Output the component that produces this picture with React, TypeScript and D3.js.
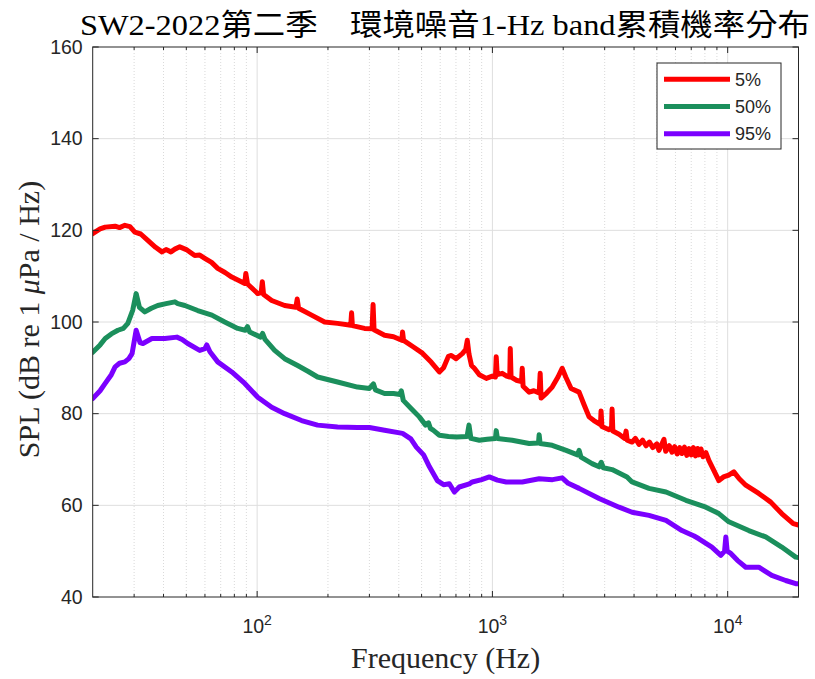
import React from "react";
import * as d3 from "d3";

// ---------- data (frequency Hz, SPL dB) ----------
const seriesNames = ["5%", "50%", "95%"];

const p5Data: [number, number][] = [
  [20,119.3],[21.5,120.3],[22.6,120.7],[24.9,120.9],[26,120.6],[27.4,121.1],[28.8,120.8],[30.2,119.6],[32,119.2],[34.3,117.8],[37,116.3],[39.4,115.3],[41,115.8],[43,115.3],[44.7,115.9],[46.9,116.4],[50,115.8],[54.3,114.5],[57,114.6],[59.9,113.9],[64,113.0],[68,111.7],[73,110.8],[78,109.8],[84,109.0],[88.6,108.4],[89.5,110.6],[91,108.3],[100.6,106.2],[104,106.4],[105.2,108.8],[106.5,106.0],[115.3,104.7],[130.9,103.6],[146,103.2],[148,105.0],[150,103.0],[170.4,101.5],[193.5,100.0],[219.7,99.7],[250,99.3],[252,102.0],[254,99.2],[286,98.6],[308,98.5],[311,103.8],[314,98.3],[348,97.1],[380,96.8],[412,96.0],[415,97.8],[419,96.0],[460,94.6],[504,93.2],[550,91.2],[595,89.1],[620,90.0],[650,92.5],[669,92.7],[700,92.0],[745,93.1],[770,94.0],[782,96.0],[795,93.0],[815,90.5],[838,89.9],[880,88.5],[942,87.7],[1000,88.2],[1030,88.0],[1038,92.4],[1048,88.5],[1101,88.8],[1150,88.2],[1185,88.0],[1191,94.2],[1200,88.0],[1263,87.3],[1330,87.0],[1339,89.9],[1350,86.0],[1433,84.7],[1500,85.0],[1580,84.5],[1596,88.8],[1610,83.4],[1700,84.5],[1795,85.8],[1900,88.0],[1979,89.9],[2050,88.0],[2160,85.5],[2336,84.7],[2450,82.0],[2576,79.3],[2700,78.5],[2880,77.6],[2896,80.6],[2920,77.2],[3132,76.5],[3210,77.0],[3226,81.0],[3250,76.2],[3454,75.5],[3650,74.6],[3699,76.2],[3740,74.2],[3922,73.8],[4050,74.6],[4200,73.3],[4350,74.2],[4496,73.0],[4650,73.8],[4800,72.6],[5000,73.4],[5100,72.0],[5200,72.9],[5361,74.4],[5450,71.8],[5650,73.0],[5800,71.6],[5950,72.8],[6100,71.2],[6250,72.6],[6391,71.3],[6550,72.7],[6700,70.9],[6850,72.4],[7000,71.0],[7150,72.6],[7300,70.8],[7450,72.4],[7546,71.0],[7700,72.3],[7850,70.6],[8081,71.5],[8318,69.8],[8700,67.8],[9170,65.4],[9600,66.2],[10100,66.6],[10620,67.3],[11200,65.8],[11940,64.4],[13558,62.6],[15242,60.7],[16972,58.2],[19000,56.0],[20000,55.7]
];

const p50Data: [number, number][] = [
  [20,93.4],[21.5,95.0],[22.6,96.4],[24,97.4],[25.6,98.2],[27,98.6],[28.2,99.7],[29.6,102.6],[30.6,106.2],[31.6,103.2],[33.3,102.2],[35.5,103.0],[37.8,103.6],[41,104.0],[44.7,104.4],[46,104.0],[49.3,103.6],[55.9,102.5],[64.2,101.5],[72.8,100.0],[82.7,98.6],[89,98.2],[91,99.0],[93,97.8],[103.5,96.7],[105.5,97.5],[108,96.2],[118.7,93.8],[130.9,92.0],[148.6,90.5],[165,89.2],[180.7,88.0],[219.7,86.9],[267,85.8],[300,85.5],[312,86.5],[318,85.2],[348,84.4],[380,84.4],[405,84.2],[410,85.0],[418,82.9],[450,81.2],[489,79.3],[520,77.5],[535,78.0],[545,76.8],[560,76.4],[595,75.3],[650,75.0],[703,74.9],[780,75.0],[795,77.5],[810,74.6],[880,74.2],[950,74.4],[1030,74.6],[1038,76.3],[1050,74.6],[1214,74.2],[1433,73.5],[1570,73.6],[1580,75.4],[1595,73.5],[1795,73.1],[2058,72.0],[2300,71.0],[2336,72.0],[2380,70.5],[2652,69.1],[2841,68.4],[2900,69.4],[2960,68.2],[3226,67.8],[3734,66.2],[3922,65.1],[4630,63.7],[5468,62.9],[6644,61.1],[8081,59.6],[9170,58.2],[10112,56.4],[12296,54.5],[14514,53.1],[16972,50.9],[19460,48.7],[20000,48.6]
];

const p95Data: [number, number][] = [
  [20,83.3],[21.5,85.0],[22.6,86.6],[24,88.5],[24.9,90.2],[26,91.0],[27.4,91.3],[28.5,92.0],[29.4,93.1],[30.6,98.2],[31.8,95.5],[32.7,95.3],[35.7,96.4],[40.5,96.4],[45.6,96.7],[48,96.2],[50.7,95.3],[57,93.8],[60,94.2],[61.1,95.0],[63,93.5],[68,91.3],[78,89.1],[88.6,86.6],[100.6,83.6],[115.3,81.4],[130.9,80.0],[154.5,78.5],[180.7,77.5],[219.7,77.1],[267,77.0],[300,77.0],[348,76.4],[415,75.7],[450,74.5],[475,72.7],[510,71.0],[540,68.4],[583,65.4],[620,64.5],[656,64.7],[689,62.9],[723,64.0],[798,64.7],[821,65.1],[900,65.6],[970,66.2],[1050,65.5],[1145,65.1],[1339,65.1],[1580,65.8],[1800,65.6],[1979,66.0],[2100,64.8],[2336,63.7],[2841,61.5],[3454,59.6],[3922,58.5],[4630,57.8],[5468,56.7],[6391,54.5],[7200,53.3],[7546,52.7],[8565,50.9],[9352,49.1],[9700,50.0],[9822,53.1],[9950,50.0],[10312,49.5],[11000,48.0],[11940,46.5],[13558,46.5],[15394,44.7],[17648,43.6],[19460,42.9],[20000,42.9]
];

const yTicks = [40, 60, 80, 100, 120, 140, 160];
const xMajorTicks = [100, 1000, 10000];
const xMajorLabels = ["2", "3", "4"];

const titleText = "SW2-2022第二季　環境噪音1-Hz band累積機率分布";
const xLabelText = "Frequency (Hz)";

// ---------- layout ----------
const W = 815, H = 679;
const L = 92.7, R = 798.5, T = 47, B = 597;
const colors = ["#ff0000", "#1b8f5c", "#7b00ff"];
const axisColor = "#262626";

export default function App() {
  const x = d3.scaleLog().domain([20, 20000]).range([L, R]);
  const y = d3.scaleLinear().domain([40, 160]).range([B, T]);
  const line = d3.line<[number, number]>().x(d => x(d[0])).y(d => y(d[1]));
  const all = [p5Data, p50Data, p95Data];

  const minor: number[] = [];
  [10, 100, 1000, 10000].forEach(dec => {
    for (let k = 2; k <= 9; k++) {
      const v = dec * k;
      if (v > 20 && v < 20000) minor.push(v);
    }
  });

  const sans = "'Liberation Sans', Arial, sans-serif";
  const serif = "'Liberation Serif', 'Times New Roman', serif";

  return (
    <svg width={W} height={H} style={{ position: "absolute", left: 0, top: 0, background: "#fff" }}>
      <rect x={0} y={0} width={W} height={H} fill="#fff" />
      <defs>
        <clipPath id="plotclip">
          <rect x={L} y={T} width={R - L} height={B - T} />
        </clipPath>
      </defs>
      {/* grid */}
      {minor.map(v => (
        <line key={"mg" + v} x1={x(v)} x2={x(v)} y1={T} y2={B} stroke="#cfcfcf" strokeWidth={0.8} strokeDasharray="1,2" />
      ))}
      {xMajorTicks.map(v => (
        <line key={"xg" + v} x1={x(v)} x2={x(v)} y1={T} y2={B} stroke="#dedede" strokeWidth={1} />
      ))}
      {yTicks.slice(1, -1).map(v => (
        <line key={"yg" + v} x1={L} x2={R} y1={y(v)} y2={y(v)} stroke="#dedede" strokeWidth={1} />
      ))}
      {/* data */}
      <g clipPath="url(#plotclip)">
        {all.map((d, i) => (
          <path key={i} d={line(d) || ""} fill="none" stroke={colors[i]} strokeWidth={5} strokeLinejoin="round" strokeLinecap="round" />
        ))}
      </g>
      {/* box */}
      <rect x={L} y={T} width={R - L} height={B - T} fill="none" stroke={axisColor} strokeWidth={1} />
      {/* ticks */}
      {yTicks.map(v => (
        <g key={"yt" + v}>
          <line x1={L} x2={L + 6} y1={y(v)} y2={y(v)} stroke={axisColor} />
          <line x1={R} x2={R - 6} y1={y(v)} y2={y(v)} stroke={axisColor} />
          <text x={L - 10} y={y(v)} dy="0.35em" textAnchor="end" fontFamily={sans} fontSize={19.5} fill={axisColor}>{v}</text>
        </g>
      ))}
      {xMajorTicks.map((v, i) => (
        <g key={"xt" + v}>
          <line x1={x(v)} x2={x(v)} y1={B} y2={B - 6} stroke={axisColor} />
          <line x1={x(v)} x2={x(v)} y1={T} y2={T + 6} stroke={axisColor} />
          <text x={x(v)} y={633} textAnchor="middle" fontFamily={sans} fontSize={19.5} fill={axisColor}>
            10<tspan fontSize={14} dy={-8}>{xMajorLabels[i]}</tspan>
          </text>
        </g>
      ))}
      {minor.map(v => (
        <g key={"mt" + v}>
          <line x1={x(v)} x2={x(v)} y1={B} y2={B - 3} stroke={axisColor} />
          <line x1={x(v)} x2={x(v)} y1={T} y2={T + 3} stroke={axisColor} />
        </g>
      ))}
      {/* labels */}
      <text x={445} y={35} textAnchor="middle" fontFamily={"'Liberation Serif', 'Noto Sans CJK TC', serif"} fontSize={30} fill="#000" textLength={730} lengthAdjust="spacingAndGlyphs">{titleText}</text>
      <text x={(L + R) / 2} y={668} textAnchor="middle" fontFamily={serif} fontSize={30} fill={axisColor}>{xLabelText}</text>
      <text transform={`translate(39,319.5) rotate(-90)`} textAnchor="middle" fontFamily={serif} fontSize={30} fill={axisColor}>
        SPL (dB re 1 <tspan fontStyle="italic">μ</tspan>Pa / Hz)
      </text>
      {/* legend */}
      <rect x={657} y={63} width={124} height={86} fill="#fff" stroke="#262626" strokeWidth={1} />
      {seriesNames.map((n, i) => (
        <g key={n}>
          <line x1={664} x2={730} y1={79.3 + i * 27.2} y2={79.3 + i * 27.2} stroke={colors[i]} strokeWidth={5} />
          <text x={735} y={79.3 + i * 27.2} dy="0.35em" fontFamily={sans} fontSize={18} fill={axisColor}>{n}</text>
        </g>
      ))}
    </svg>
  );
}
